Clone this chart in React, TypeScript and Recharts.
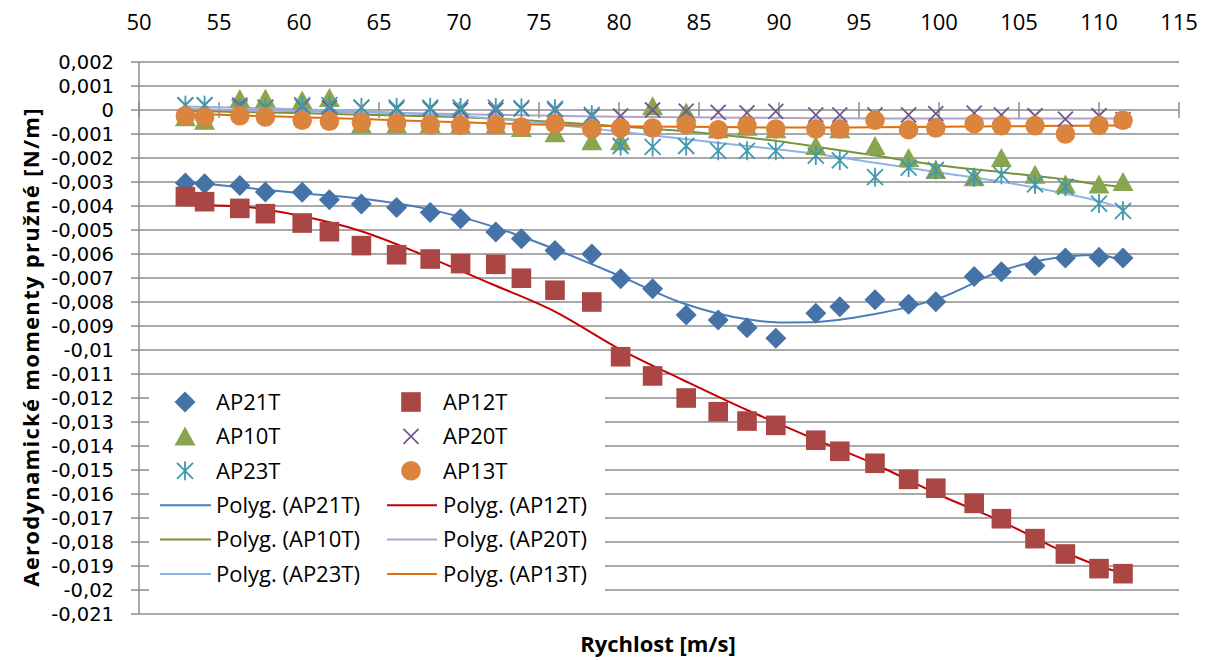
import React from 'react';
import { ComposedChart, Scatter, Line, XAxis, YAxis, CartesianGrid, ReferenceLine } from 'recharts';

// Wind speed of each measured point [m/s]
const speeds = [
  52.9, 54.1, 56.3, 57.9, 60.2, 61.9, 63.9, 66.1, 68.2, 70.1, 72.3, 73.9, 76.0, 78.3, 80.1, 82.1,
  84.2, 86.2, 88.0, 89.8, 92.3, 93.8, 96.0, 98.1, 99.8, 102.2, 103.9, 106.0, 107.9, 110.0, 111.5,
];

// Measured elastic aerodynamic moments [N/m]
const ap21t = [
  -0.00304, -0.00307, -0.00315, -0.00342, -0.00343, -0.00374, -0.00392, -0.00406, -0.00427, -0.00453,
  -0.00508, -0.00536, -0.00585, -0.006, -0.00703, -0.00745, -0.00854, -0.00875, -0.00907, -0.00951,
  -0.00847, -0.0082, -0.00791, -0.00809, -0.00799, -0.00694, -0.00674, -0.00649, -0.00617, -0.00614, -0.00617,
];
const ap12t = [
  -0.00361, -0.00382, -0.0041, -0.00432, -0.00471, -0.00507, -0.00565, -0.00603, -0.00621, -0.0064,
  -0.00643, -0.00701, -0.00751, -0.008, -0.01028, -0.01108, -0.012, -0.01257, -0.01296, -0.01314,
  -0.01376, -0.01422, -0.01472, -0.01539, -0.01576, -0.01639, -0.01703, -0.01786, -0.0185, -0.01911, -0.01932,
];
const ap10t = [
  -0.0003, -0.00045, 0.00046, 0.00047, 0.0004, 0.0005, -0.0006, -0.0006, -0.00058, -0.0006,
  -0.00062, -0.00075, -0.00097, -0.0013, -0.0013, 0.00016, -0.0001, -0.0008, -0.0007, -0.0008,
  -0.0015, -0.0008, -0.0015, -0.002, -0.0025, -0.0028, -0.002, -0.0027, -0.0031, -0.0031, -0.003,
];
const ap20t = [
  0.0002, 0.0002, 0.0002, 0.0001, 0.00015, 0.0001, 0.0001, 0.00005, 0.00005, 0.0,
  0.0, 0.00005, 0.0, -0.00025, -0.00025, 0.0, -0.00005, -0.0001, -0.00012, -0.00006,
  -0.0002, -0.0002, -0.0002, -0.0002, -0.00015, -0.00013, -0.0002, -0.00024, -0.00038, -0.00024, -0.0004,
];
const ap23t = [
  0.0002, 0.0002, 0.0001, 0.0001, 0.0002, 0.0002, 0.0001, 0.0001, 0.0001, 0.0001,
  0.0001, 0.00008, 0.00005, -0.0002, -0.0015, -0.00154, -0.0015, -0.0017, -0.0017, -0.0017,
  -0.0019, -0.0021, -0.0028, -0.0024, -0.0025, -0.0028, -0.0027, -0.0031, -0.0032, -0.0039, -0.0042,
];
const ap13t = [
  -0.00024, -0.00029, -0.00024, -0.00029, -0.00043, -0.00047, -0.00051, -0.00054, -0.00061, -0.00064,
  -0.00063, -0.00071, -0.00058, -0.00079, -0.00075, -0.00075, -0.00061, -0.00082, -0.00065, -0.00079,
  -0.00079, -0.00079, -0.00043, -0.00082, -0.00075, -0.00057, -0.00065, -0.00065, -0.001, -0.00064, -0.00043,
];

// Polynomial trend curves, sampled at these speeds
const trendSpeeds = [52.9, 56, 60, 64, 68, 72, 76, 80, 84, 88, 90, 92, 96, 100, 104, 108, 110, 111.5];
const ap21tFit = [
  -0.00298, -0.0032, -0.00346, -0.0037, -0.00412, -0.00483, -0.0058, -0.0069, -0.00805, -0.00872,
  -0.00885, -0.00884, -0.0085, -0.00785, -0.00668, -0.0061, -0.00604, -0.0063,
];
const ap12tFit = [
  -0.00396, -0.004, -0.0044, -0.00507, -0.00611, -0.00724, -0.0084, -0.00995, -0.01125, -0.0125,
  -0.01308, -0.01365, -0.01476, -0.01603, -0.01717, -0.01847, -0.019, -0.0193,
];
const ap10tFit = [
  -0.00003, -0.00008, -0.00013, -0.0002, -0.00026, -0.00035, -0.0005, -0.00068, -0.00088, -0.00115,
  -0.0013, -0.0015, -0.0019, -0.0023, -0.0026, -0.0029, -0.0031, -0.0032,
];
const ap20tFit = [
  0.00005, 0.0, -0.00005, -0.0001, -0.00015, -0.0002, -0.00024, -0.00028, -0.0003, -0.00032,
  -0.00033, -0.00034, -0.00035, -0.00035, -0.00035, -0.00035, -0.00035, -0.00035,
];
const ap23tFit = [
  0.00015, 0.0001, 0.00003, -0.00005, -0.00018, -0.00035, -0.0006, -0.0009, -0.0012, -0.0015,
  -0.00165, -0.0018, -0.0022, -0.0026, -0.003, -0.0035, -0.0038, -0.0041,
];
const ap13tFit = [
  -0.00015, -0.00022, -0.0003, -0.00038, -0.00047, -0.00055, -0.00062, -0.00068, -0.0007, -0.00072,
  -0.00073, -0.00073, -0.00072, -0.0007, -0.00068, -0.00066, -0.00065, -0.00064,
];

const xTicks = [50, 55, 60, 65, 70, 75, 80, 85, 90, 95, 100, 105, 110, 115];
const yTicks = [
  0.002, 0.001, 0, -0.001, -0.002, -0.003, -0.004, -0.005, -0.006, -0.007, -0.008, -0.009, -0.01,
  -0.011, -0.012, -0.013, -0.014, -0.015, -0.016, -0.017, -0.018, -0.019, -0.02, -0.021,
];

const seriesNames = ['AP21T', 'AP12T', 'AP10T', 'AP20T', 'AP23T', 'AP13T'];

const FONT = '"Open Sans", sans-serif';
const TICK_FONT = '"DejaVu Sans", sans-serif';
const GRID = '#8c8c8c';
const ZERO_TICK = 0.00033;

type Pt = { x: number; y: number };
const measured = (ys: number[]): Pt[] => speeds.map((x, i) => ({ x, y: ys[i] }));
const fitted = (ys: number[]): Pt[] => trendSpeeds.map((x, i) => ({ x, y: ys[i] }));

type MarkerFn = (cx: number, cy: number, c: string) => React.ReactElement;

const diamond: MarkerFn = (cx, cy, c) => (
  <polygon points={`${cx},${cy - 10.5} ${cx + 10.5},${cy} ${cx},${cy + 10.5} ${cx - 10.5},${cy}`} fill={c} />
);
const square: MarkerFn = (cx, cy, c) => <rect x={cx - 9.8} y={cy - 9.8} width={19.6} height={19.6} fill={c} />;
const triangle: MarkerFn = (cx, cy, c) => (
  <polygon points={`${cx},${cy - 10} ${cx + 10.5},${cy + 9} ${cx - 10.5},${cy + 9}`} fill={c} />
);
const cross: MarkerFn = (cx, cy, c) => (
  <path
    d={`M${cx - 7.5},${cy - 7.5}L${cx + 7.5},${cy + 7.5}M${cx - 7.5},${cy + 7.5}L${cx + 7.5},${cy - 7.5}`}
    stroke={c}
    strokeWidth={1.8}
    fill="none"
  />
);
const star: MarkerFn = (cx, cy, c) => (
  <path
    d={`M${cx - 8},${cy - 8}L${cx + 8},${cy + 8}M${cx - 8},${cy + 8}L${cx + 8},${cy - 8}M${cx},${cy - 9.5}L${cx},${cy + 9.5}`}
    stroke={c}
    strokeWidth={1.8}
    fill="none"
  />
);
const dot: MarkerFn = (cx, cy, c) => <circle cx={cx} cy={cy} r={9.8} fill={c} />;

const markerColors = ['#4572A7', '#AA4643', '#89A54E', '#71588F', '#4198AF', '#DB843D'];
const trendColors = ['#4A7EBB', '#C80000', '#77933C', '#B3A2C7', '#8EB4E3', '#E46C0A'];
const markers: MarkerFn[] = [diamond, square, triangle, cross, star, dot];
const measuredSets = [ap21t, ap12t, ap10t, ap20t, ap23t, ap13t];
const fitSets = [ap21tFit, ap12tFit, ap10tFit, ap20tFit, ap23tFit, ap13tFit];

const fmt = (v: number) => String(v).replace('.', ',');

const LegendBox = () => {
  const rowH = 34.4;
  const first = 19;
  const cols = [
    { sym: 36, line: [11, 62], text: 67 },
    { sym: 262, line: [238, 288], text: 294 },
  ];
  return (
    <svg width={456} height={214} style={{ display: 'block' }}>
      {seriesNames.map((name, i) => {
        const col = cols[i % 2];
        const cy = first + Math.floor(i / 2) * rowH;
        return (
          <g key={name}>
            {markers[i](col.sym, cy, markerColors[i])}
            <text x={col.text} y={cy + 7.8} fontSize={22} fontFamily={FONT} fill="#000">
              {name}
            </text>
          </g>
        );
      })}
      {seriesNames.map((name, i) => {
        const col = cols[i % 2];
        const cy = first + (3 + Math.floor(i / 2)) * rowH;
        return (
          <g key={`p-${name}`}>
            <line x1={col.line[0]} x2={col.line[1]} y1={cy} y2={cy} stroke={trendColors[i]} strokeWidth={2} />
            <text x={col.text} y={cy + 7.8} fontSize={22} fontFamily={FONT} fill="#000">
              {`Polyg. (${name})`}
            </text>
          </g>
        );
      })}
    </svg>
  );
};

export default function App() {
  return (
    <div style={{ position: 'absolute', left: 0, top: 0, width: 1210, height: 660, background: '#fff' }}>
      <ComposedChart width={1210} height={660} margin={{ top: 22, right: 31, bottom: 46, left: 0 }}>
        <CartesianGrid vertical={false} stroke={GRID} strokeWidth={1.5} />
        <XAxis
          xAxisId={0}
          dataKey="x"
          type="number"
          orientation="top"
          domain={[50, 115]}
          ticks={xTicks}
          allowDataOverflow
          axisLine={false}
          tickLine={false}
          tickSize={0}
          tickMargin={32}
          height={40}
          tick={{ fontSize: 22, fontFamily: FONT, fill: '#000' }}
        />
        <YAxis
          yAxisId={0}
          dataKey="y"
          type="number"
          domain={[-0.021, 0.002]}
          ticks={yTicks}
          allowDataOverflow
          interval={0}
          width={139}
          tickFormatter={fmt}
          tickSize={8}
          tickMargin={17}
          axisLine={{ stroke: GRID, strokeWidth: 1.5 }}
          tickLine={{ stroke: GRID, strokeWidth: 1.5 }}
          tick={{ fontSize: 19.5, fontFamily: TICK_FONT, fill: '#000' }}
        />
        {xTicks.map((t) => (
          <ReferenceLine
            key={`zt-${t}`}
            segment={[
              { x: t, y: ZERO_TICK },
              { x: t, y: -ZERO_TICK },
            ]}
            stroke={GRID}
            strokeWidth={1.5}
          />
        ))}
        {seriesNames.map((name, i) => (
          <Scatter
            key={name}
            name={name}
            data={measured(measuredSets[i])}
            dataKey="y"
            isAnimationActive={false}
            shape={(p: any) => markers[i](p.cx, p.cy, markerColors[i])}
          />
        ))}
        {seriesNames.map((name, i) => (
          <Line
            key={`fit-${name}`}
            name={`Polyg. (${name})`}
            data={fitted(fitSets[i])}
            dataKey="y"
            type="monotone"
            stroke={trendColors[i]}
            strokeWidth={2}
            dot={false}
            activeDot={false}
            isAnimationActive={false}
          />
        ))}
      </ComposedChart>
      <svg width={1210} height={660} style={{ position: 'absolute', left: 0, top: 0, pointerEvents: 'none' }}>
        <text x={658} y={652} textAnchor="middle" fontSize={22} fontWeight="bold" fontFamily={FONT} fill="#000">
          Rychlost [m/s]
        </text>
        <text
          x={39}
          y={347}
          transform="rotate(-90 39 347)"
          textAnchor="middle"
          fontSize={22}
          fontWeight="bold"
          letterSpacing={1.3}
          fontFamily={FONT}
          fill="#000"
        >
          Aerodynamické momenty pružné [N/m]
        </text>
      </svg>
      <div style={{ position: 'absolute', left: 149, top: 383, width: 456, height: 214, background: '#fff' }}>
        <LegendBox />
      </div>
    </div>
  );
}
